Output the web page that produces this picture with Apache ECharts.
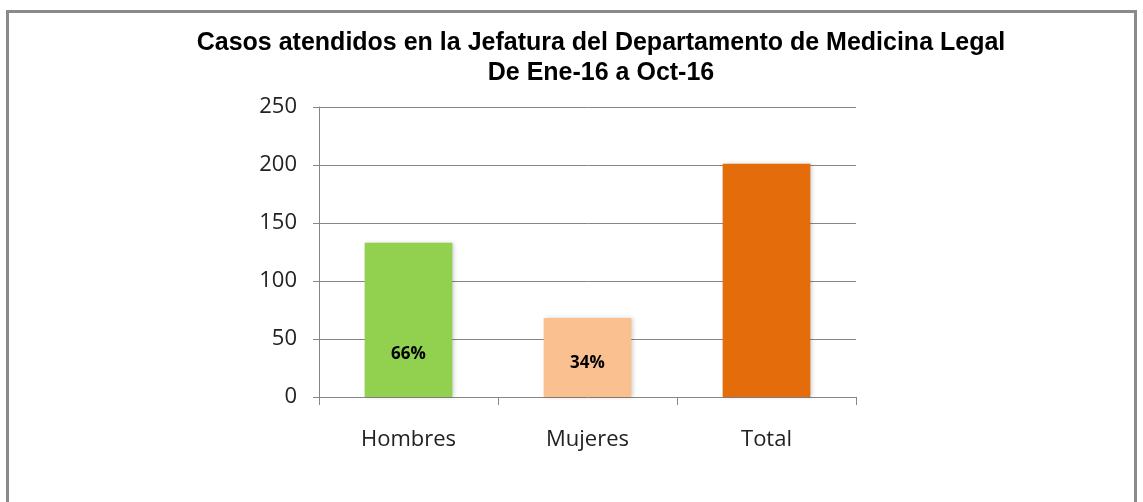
<!DOCTYPE html>
<html>
<head>
<meta charset="utf-8">
<script src="https://cdn.jsdelivr.net/npm/echarts@6/dist/echarts.min.js"></script>
<style>
  html, body { margin: 0; padding: 0; background: #fff; overflow: hidden; }
  #frame { position: absolute; left: 6px; top: 10px; width: 1131px; height: 520px; border: 3px solid #8a8a8a; box-sizing: border-box; }
  #chart { position: absolute; left: 0; top: 0; width: 1143px; height: 502px; }
</style>
</head>
<body>
<div id="frame"></div>
<div id="chart"></div>
<script>
var categories = ['Hombres', 'Mujeres', 'Total'];
var casos = [133, 68, 201];
var porcentajes = ['66%', '34%', ''];
var barColors = ['#92D050', '#FAC090', '#E46C0A'];
var yTicks = [0, 50, 100, 150, 200, 250];

(function() {
  var grey = '#868686';
  var labelDist = [34, 25, 0];

  var chart = echarts.init(document.getElementById('chart'), null, { renderer: 'canvas' });
  chart.setOption({
    animation: false,
    title: {
      text: 'Casos atendidos en la Jefatura del Departamento de Medicina Legal\nDe Ene-16 a Oct-16',
      left: 596,
      top: 23,
      textAlign: 'center',
      textStyle: {
        fontFamily: 'Liberation Sans',
        fontWeight: 'bold',
        fontSize: 25,
        lineHeight: 30,
        color: '#000'
      }
    },
    grid: { left: 319, right: 287, top: 107, bottom: 105, containLabel: false },
    xAxis: {
      type: 'category',
      data: categories,
      axisLine: { show: false },
      axisTick: { show: true, length: 8, lineStyle: { color: grey } },
      axisLabel: { margin: 32, color: '#222', fontFamily: 'Open Sans', fontSize: 22 }
    },
    yAxis: {
      type: 'value',
      min: yTicks[0],
      max: yTicks[yTicks.length - 1],
      interval: 50,
      axisLine: { show: true, lineStyle: { color: grey } },
      axisTick: { show: true, length: 6, lineStyle: { color: grey } },
      axisLabel: { margin: 22, color: '#222', fontFamily: 'Open Sans', fontSize: 22 },
      splitLine: { lineStyle: { color: grey, width: 1 } }
    },
    series: [{
      type: 'bar',
      barWidth: '49%',
      data: casos.map(function(v, i) {
        return {
          value: v,
          itemStyle: {
            color: barColors[i],
            shadowColor: 'rgba(0,0,0,0.18)',
            shadowBlur: 4,
            shadowOffsetX: 2,
            shadowOffsetY: 0
          },
          label: {
            show: porcentajes[i] !== '',
            position: 'insideBottom',
            distance: labelDist[i],
            formatter: porcentajes[i],
            fontFamily: 'Open Sans',
            fontWeight: 'bold',
            fontSize: 17,
            color: '#000'
          }
        };
      })
    }]
  });
})();
</script>
</body>
</html>
